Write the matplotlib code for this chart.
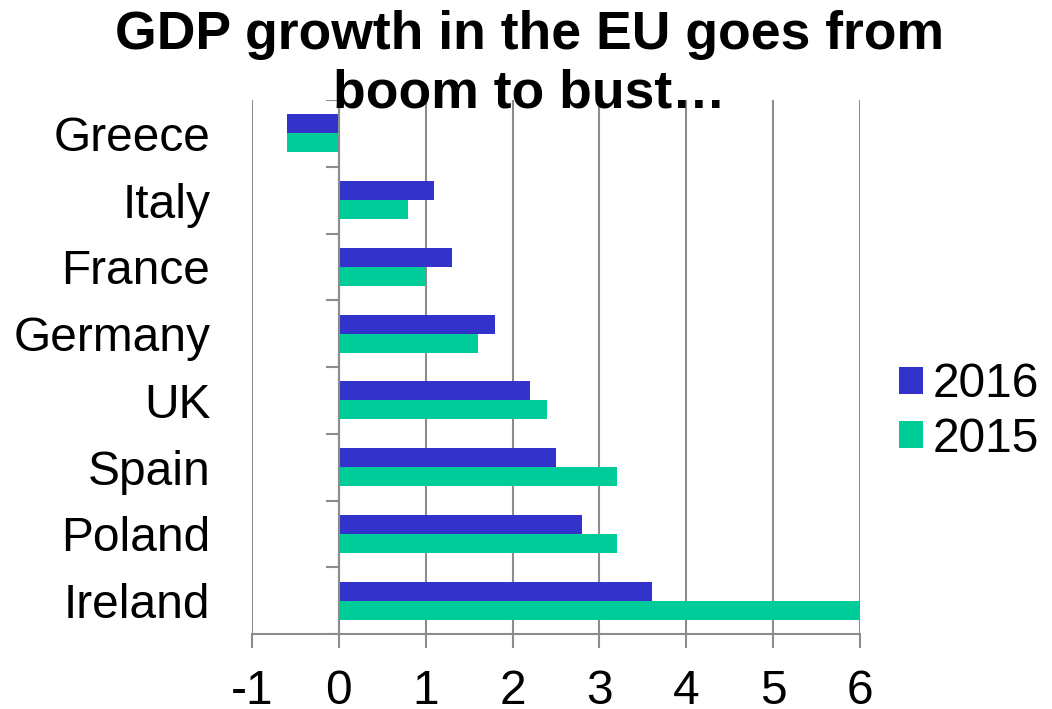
import matplotlib.pyplot as plt
import numpy as np

plt.rcParams['font.family'] = ['Liberation Sans', 'DejaVu Sans']

# Countries listed bottom to top
countries = ['Ireland', 'Poland', 'Spain', 'UK', 'Germany', 'France', 'Italy', 'Greece']
growth_2016 = [3.6, 2.8, 2.5, 2.2, 1.8, 1.3, 1.1, -0.6]
growth_2015 = [6.0, 3.2, 3.2, 2.4, 1.6, 1.0, 0.8, -0.6]
series_labels = ['2016', '2015']
x_ticks = [-1, 0, 1, 2, 3, 4, 5, 6]

blue = '#3333CC'
green = '#00CC99'
grey = '#8C8C8C'
fs = 34.5

fig = plt.figure(figsize=(10.52, 7.09), dpi=100)
ax = fig.add_axes([252 / 1052, 1 - 634 / 709, 608 / 1052, 534 / 709])

y = np.arange(len(countries))
h = 0.285
b1 = ax.barh(y + h / 2, growth_2016, height=h, color=blue, label=series_labels[0], zorder=3)
b2 = ax.barh(y - h / 2, growth_2015, height=h, color=green, label=series_labels[1], zorder=3)

ax.set_xlim(x_ticks[0], x_ticks[-1])
ax.set_ylim(-0.5, len(countries) - 0.5)
ax.set_xticks(x_ticks)
ax.set_xticklabels([str(t) for t in x_ticks])
ax.set_yticks(y)
ax.set_yticklabels(countries)

ax.grid(axis='x', color=grey, linewidth=1.5, zorder=0)
ax.grid(axis='y', visible=False)
for side in ['top', 'right', 'left']:
    ax.spines[side].set_visible(False)
ax.spines['bottom'].set_color(grey)
ax.spines['bottom'].set_linewidth(1.5)
ax.spines['bottom'].set_zorder(4)

ax.tick_params(axis='x', length=10, width=1.5, color=grey, labelsize=fs, pad=15)
ax.tick_params(axis='y', length=0, labelsize=fs, pad=30)

# vertical axis at zero with category separators
ax.axvline(0, color=grey, linewidth=1.5, zorder=4)
bounds = np.arange(len(countries) + 1) - 0.5
ax.hlines(bounds, -0.15, 0, color=grey, linewidth=1.5, zorder=4)

fig.text(0.503, 1 - 10 / 709, 'GDP growth in the EU goes from\nboom to bust…',
         ha='center', va='top', fontsize=38.5, fontweight='bold', linespacing=1.22)

fig.legend(handles=[b1, b2], loc='center left', bbox_to_anchor=(880 / 1052, 1 - 412 / 709),
           frameon=False, fontsize=fs, handlelength=0.5, handleheight=0.5,
           handletextpad=0.2, labelspacing=0.2, borderaxespad=0)

fig.savefig('out.png', dpi=100, facecolor='white')
